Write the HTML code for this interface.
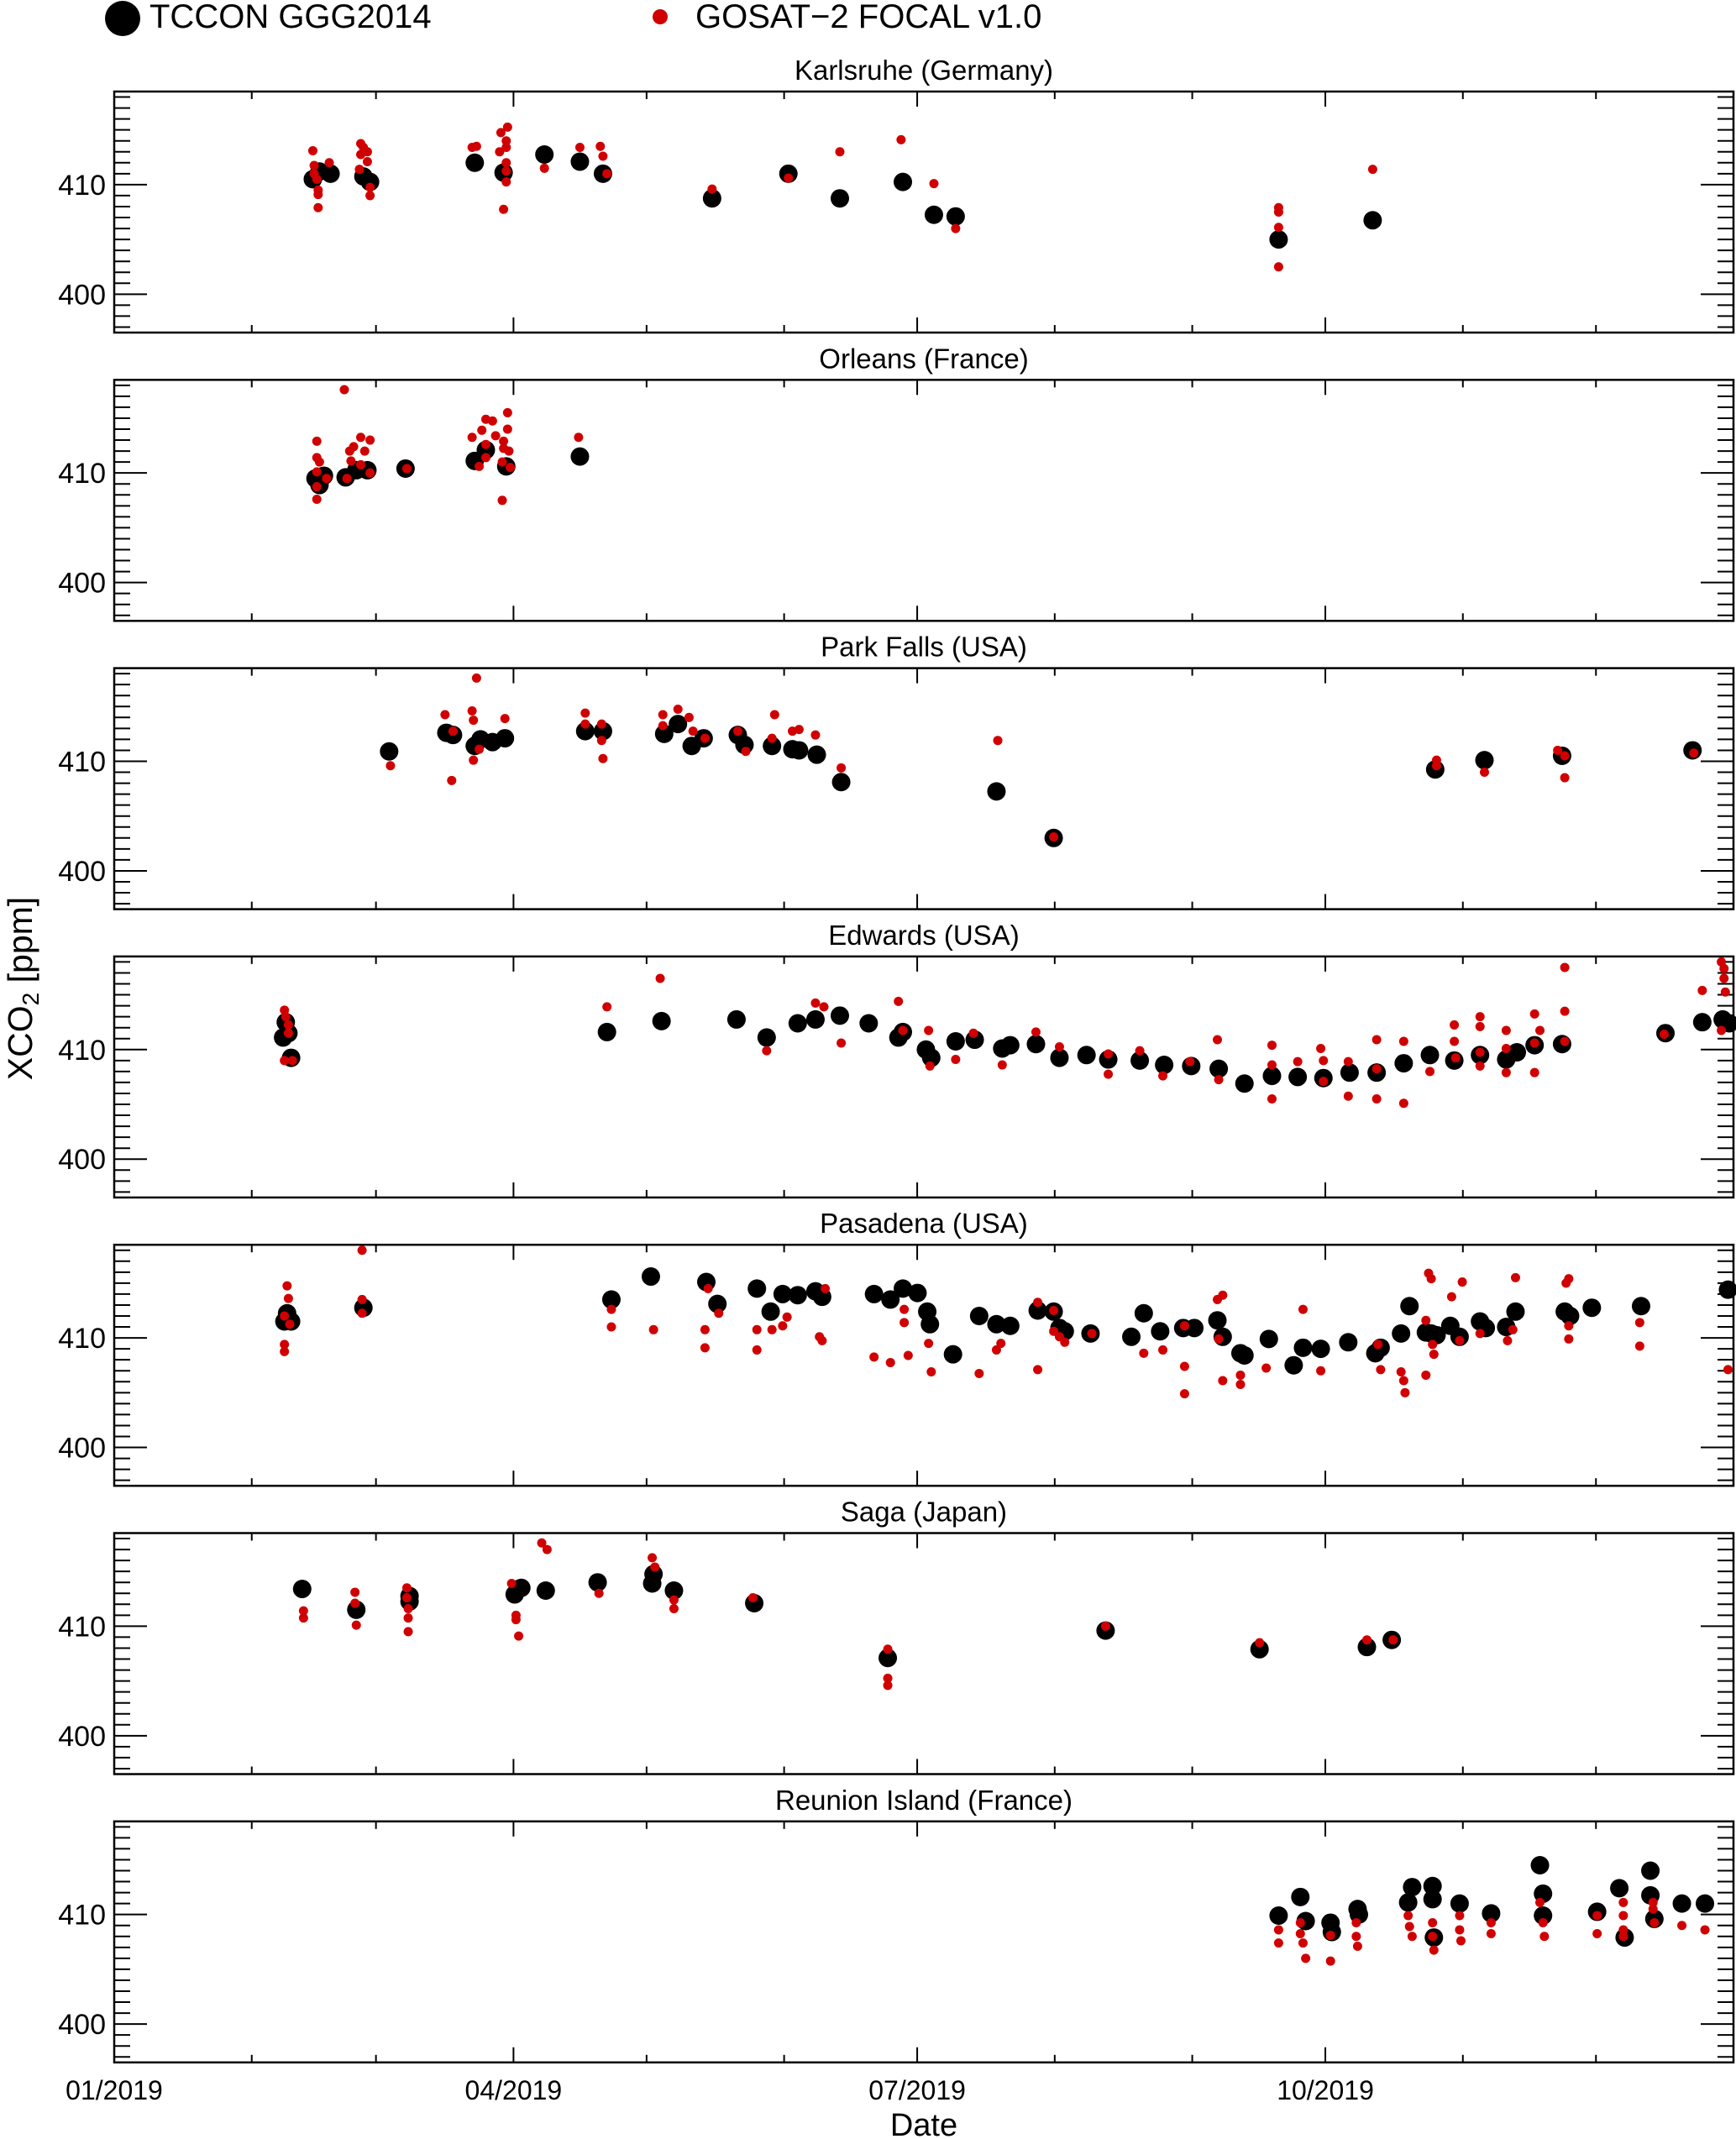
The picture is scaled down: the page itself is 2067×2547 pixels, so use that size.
<!DOCTYPE html>
<html><head><meta charset="utf-8"><style>
html,body{margin:0;padding:0;background:#fff;}
svg{display:block;font-family:"Liberation Sans",sans-serif;}
</style></head><body>
<svg id="chart" width="2067" height="2547" viewBox="0 0 2067 2547" xmlns="http://www.w3.org/2000/svg">
<g id="legend">
 <ellipse cx="146" cy="22" rx="21" ry="21" fill="#000"/>
 <text x="178" y="33" font-size="40">TCCON GGG2014</text>
 <circle cx="786" cy="20" r="9" fill="#d00000"/>
 <text x="828" y="33" font-size="40">GOSAT−2 FOCAL v1.0</text>
</g>
<text transform="translate(38,1177) rotate(-90)" text-anchor="middle" font-size="41">XCO<tspan font-size="28" dy="8">2</tspan><tspan dy="-8"> [ppm]</tspan></text>
<text x="1100" y="2543" text-anchor="middle" font-size="38">Date</text>
<g id="panels"></g>
</svg>
<script>
const xTickLabels = ["01/2019","04/2019","07/2019","10/2019"];
const xTickDays = [0,90,181,273];
const monthDays = [0,31,59,90,120,151,181,212,243,273,304,334,365];
const yTickLabels = [400,410];
const siteNames = ["Karlsruhe (Germany)","Orleans (France)","Park Falls (USA)","Edwards (USA)","Pasadena (USA)","Saga (Japan)","Reunion Island (France)"];

// Karlsruhe
const karTcD = [44.2,45.7,48.2,55.6,57.1,80.7,87.2,96.4,104.4,109.6,134.2,151.4,163,177.2,184.2,189.1,261.9,283.1];
const karTcV = [410.5,411.2,411,410.75,410.25,412,411.1,412.75,412.1,411,408.75,411,408.75,410.25,407.25,407.1,405,406.75];
const karGoD = [44.2,44.5,44.5,45.1,45.4,45.4,45.4,47.9,55,55.6,55,56.5,56.5,57.1,57.1,54.7,80.1,81.1,86.6,88.1,87.8,87.8,86.3,87.8,87.8,87.8,87.2,96.4,104.4,109,109.6,110.5,134.2,151.4,163,176.8,184.2,189.1,261.9,261.9,261.9,261.9,283.1];
const karGoV = [413.1,411.75,411,410.5,409.5,409.1,407.9,412,413.75,413.4,412.75,413,412.1,409.75,409,411.4,413.4,413.5,414.75,415.25,414,413.4,413,412,411.25,410.25,407.75,411.5,413.4,413.5,412.6,411,409.6,410.6,413,414.1,410.1,406,407.9,407.5,406.1,402.5,411.4];
// Orleans
const orlTcD = [44.8,45.7,46.7,51.6,54,56.5,65.1,80.7,83.2,87.8,104.4];
const orlTcV = [409.5,408.9,409.75,409.6,410.25,410.25,410.4,411.1,412.1,410.6,411.5];
const orlGoD = [45.1,45.1,45.7,45.1,45.1,45.1,47.3,51.3,52.5,52.8,53.4,51.9,55,55.9,57.1,55,57.1,65.4,80.1,82.3,83.2,83.2,83.2,84.7,85.4,87.2,87.2,86.9,86.9,88.1,88.1,88.4,88.7,81.7,104.1];
const orlGoV = [412.9,411.4,411,410.1,408.75,407.6,409.5,417.6,412,411.1,412.4,409.5,413.25,412,413,410.75,410,410.4,413.25,413.9,414.9,412.6,411.4,414.75,413.4,412.9,412.25,411,407.5,415.5,414,412,410.5,410.6,413.25];
// Park Falls
const pfTcD = [61.4,74.3,75.8,80.7,82,84.7,87.5,105.6,109.6,123.4,126.5,129.6,132.3,140,141.5,147.7,152.3,153.8,157.8,163.3,198.3,211.2,297.2,308.3,325.8,355.2];
const pfTcV = [410.9,412.6,412.4,411.4,412,411.75,412.1,412.75,412.75,412.5,413.4,411.4,412.1,412.4,411.5,411.4,411.1,411,410.6,408.1,407.25,403,409.25,410.1,410.5,411];
const pfGoD = [61.7,74,75.5,75.8,80.1,80.4,81.1,80.4,81.7,87.5,105.6,105.6,109.3,109.3,109.6,123.1,123.1,126.5,129,129.9,132.6,140,141.8,148.3,147.7,152.3,153.8,157.5,163.3,198.6,211.2,297.5,297.5,308.3,324.8,326.4,326.4,355.5];
const pfGoV = [409.6,414.25,408.25,412.75,414.6,413.75,417.6,410.1,411.1,413.9,414.4,413.4,413.4,411.9,410.25,414.25,413.25,414.75,414,412.75,412.1,412.75,410.9,414.25,412.1,412.75,412.9,412.4,409.4,411.9,403.1,410.1,409.6,409,411,410.5,408.5,410.75];
// Edwards
const edTcD = [37.5,38.1,38.7,39.3,110.5,122.8,139.7,146.5,153.5,157.5,163,169.5,176.2,177.2,182.4,183.6,189.1,193.4,199.6,201.4,207.2,212.5,218.6,223.5,230.6,236.1,242.2,248.4,254.2,260.4,266.2,272,277.9,284,290.1,296,301.5,307.3,313.2,315.6,319.6,325.8,349.1,357.4,362,363.5];
const edTcV = [411.1,412.5,411.5,409.25,411.6,412.6,412.75,411.1,412.4,412.75,413.1,412.4,411.1,411.6,410,409.25,410.75,410.9,410.1,410.4,410.5,409.25,409.5,409.1,409,408.6,408.5,408.25,406.9,407.6,407.5,407.4,407.9,407.9,408.75,409.5,409,409.5,409.1,409.75,410.4,410.5,411.5,412.5,412.75,412.4];
const edGoD = [37.8,38.1,38.7,38.7,37.8,39.6,110.5,122.5,146.5,157.5,159.4,163.3,176.2,177.2,183,183.3,189.1,193.1,199.6,207.2,212.5,223.5,223.5,230.6,235.8,241.9,248.1,248.4,260.4,260.4,260.4,266.2,271.4,272,272,277.6,277.6,284,284,284,290.1,290.1,296,301.5,301.5,301.8,307.3,307.3,307.3,307.3,313.2,313.2,313.2,319.6,319.6,319.6,320.8,326.4,326.4,326.4,348.8,357.4,361.7,362.3,362.3,362.6,361.7];
const edGoV = [413.6,413,412.25,411.5,409,409,413.9,416.5,409.9,414.25,413.9,410.6,414.4,411.75,411.75,408.5,409.1,411.5,408.6,411.6,410.25,409.6,407.75,409.9,407.6,408.9,410.9,407.25,410.4,408.6,405.5,408.9,410.1,409,407.1,408.9,405.75,410.9,408.25,405.5,410.75,405.1,408,412.25,410.75,409.25,413,412.1,409.75,408.5,411.75,410.1,407.9,413.25,410.6,407.9,411.75,417.5,413.5,410.75,411.4,415.4,418,417.4,416.5,415.25,411.75];
// Pasadena
const paTcD = [37.8,38.4,39.3,55.6,111.5,120.4,132.9,135.4,144.3,147.4,150.1,153.5,157.5,159,170.7,174.4,177.2,180.5,182.7,183.3,188.5,194.4,198.3,201.4,207.6,211.2,212.5,213.7,219.5,228.7,231.5,235.2,240.4,242.9,248.1,249.3,253.3,254.2,259.7,265.3,267.4,271.4,277.6,283.7,284.9,289.5,291.4,295.1,296.3,297.5,300.6,302.7,307.3,308.6,313.2,315.3,326.4,327.6,332.5,343.6,363.2];
const paTcV = [411.5,412.25,411.5,412.75,413.5,415.6,415.1,413.1,414.5,412.4,414,413.9,414.25,413.75,414,413.5,414.5,414.1,412.4,411.25,408.5,412,411.25,411.1,412.5,412.4,410.9,410.6,410.4,410.1,412.25,410.6,410.9,410.9,411.6,410.1,408.6,408.4,409.9,407.5,409.1,409,409.6,408.6,409.1,410.4,412.9,410.5,410.4,410.25,411.1,410.1,411.5,410.9,411,412.4,412.4,412,412.75,412.9,414.4];
const paGoD = [38.4,38.7,37.8,37.8,37.8,39,55.3,55.3,55.3,111.5,111.5,121,132.6,132.6,133.3,135.7,144.3,144.3,147.7,150.1,151.1,158.4,159,159.7,170.7,174.4,177.5,177.5,178.4,183,183.6,194.4,198.3,199.3,207.6,207.6,211.2,211.2,212.5,213.7,219.8,231.5,235.8,240.7,240.7,240.7,248.1,249.3,248.4,249.3,253.3,253.3,259.1,267.4,271.4,284.3,284.9,289.5,290.1,290.4,295.1,295.1,295.7,296.3,296.6,296.9,300.9,302.7,303.3,307.3,313.5,314.7,315.3,326.7,327.3,327.3,327.3,343.3,343.3,363.2];
const paGoV = [414.75,413.6,412,409.4,408.75,411.25,418,413.5,412.25,412.6,411,410.75,410.75,409.1,414.5,412.25,410.75,408.9,410.75,411.1,411.9,410.1,409.75,414.5,408.25,407.75,412.6,411.4,408.4,409.5,406.9,406.75,408.9,409.5,413.25,407.1,412.5,410.6,410.1,409.6,410.4,408.6,408.9,411.1,407.4,404.9,413.5,413.9,409.9,406.1,406.6,405.75,407.25,412.6,407,409.4,407.1,406.9,406.1,405,411.6,406.6,415.9,415.4,409.4,408.5,413.75,409.75,415.1,410.4,409.75,410.75,415.5,415,415.4,411.1,409.9,411.4,409.25,407.1];
// Saga
const sgTcD = [41.8,54,66,66,89.7,90.6,91.2,96.7,108.4,120.7,121,125.6,143.7,173.8,222.9,257.6,281.8,287.4];
const sgTcV = [413.4,411.5,412.25,412.75,412.9,413.4,413.5,413.25,414,413.9,414.75,413.25,412.1,407.1,409.6,407.9,408.1,408.75];
const sgGoD = [42.1,42.1,53.7,53.7,54,65.4,65.4,65.7,65.7,65.7,90,90,90.6,95.8,97,89,108.7,120.7,121.3,125.6,125.6,143.4,173.8,173.8,173.8,222.9,257.6,281.8,287.7];
const sgGoV = [411.4,410.75,413.1,412.1,410.1,413.5,412.6,411.6,410.75,409.5,411,410.6,409.1,417.6,417,413.9,413,416.25,415.4,412.4,411.6,412.6,407.9,405.25,404.6,410,408.5,408.75,408.75];
// Reunion
const reTcD = [261.9,266.8,268,273.6,273.9,279.7,280,291.1,292,296.6,296.6,296.9,302.7,309.8,320.8,321.5,321.5,333.7,338.7,339.9,345.7,345.7,346.6,352.8,358];
const reTcV = [409.9,411.6,409.4,409.25,408.4,410.5,410,411.1,412.5,412.6,411.4,407.9,411,410.1,414.5,411.9,409.9,410.25,412.4,407.9,414,411.75,409.6,411,411];
const reGoD = [261.9,261.9,266.8,266.8,267.4,268,273.6,273.6,279.4,279.4,279.7,291.1,291.4,292,296.6,296.6,296.9,302.7,302.7,303,309.8,309.8,320.8,321.5,321.8,333.7,333.7,339.6,339.6,339.6,339.6,346.3,346.3,346.6,352.8,358];
const reGoV = [408.6,407.4,409.25,408.25,407.4,406,408.1,405.75,409.25,408,407.1,409.9,408.9,408,409.25,408,406.75,409.9,408.6,407.6,409.25,408.25,411.1,409.25,408,409.9,408.25,411.1,409.9,408.6,408,411.1,410.5,409.25,409,408.6];

const sites = [
 [karTcD,karTcV,karGoD,karGoV],[orlTcD,orlTcV,orlGoD,orlGoV],[pfTcD,pfTcV,pfGoD,pfGoV],
 [edTcD,edTcV,edGoD,edGoV],[paTcD,paTcV,paGoD,paGoV],[sgTcD,sgTcV,sgGoD,sgGoV],[reTcD,reTcV,reGoD,reGoV]];

const NS = "http://www.w3.org/2000/svg";
const X0 = 136, X1 = 2064, PH = 287, PTOP = 109, PSTEP = 343.3;
const YMIN = 396.5, YMAX = 418.5;
function xScale(d){ return X0 + d*(X1-X0)/365; }
function yScale(v, top){ return top + (YMAX - v)*PH/(YMAX-YMIN); }
function mk(tag, attrs, parent){
  const el = document.createElementNS(NS, tag);
  for (const k in attrs) el.setAttribute(k, attrs[k]);
  parent.appendChild(el);
  return el;
}
const root = document.getElementById("panels");
siteNames.forEach((name, i) => {
  const top = PTOP + i*PSTEP, bot = top + PH;
  const g = mk("g", {}, root);
  
  
  const t = mk("text", {x:(X0+X1)/2, y:top-14, "text-anchor":"middle", "font-size":33}, g);
  
  
  t.textContent = name;
  const fr = mk("rect", {x:X0, y:top, width:X1-X0, height:PH, fill:"none", stroke:"#000", "stroke-width":2.5}, g);
  
  
  for (let v = 397; v <= 418; v++) {
    const y = yScale(v, top);
    const major = (v % 10 === 0);
    const L = major ? 39 : 19;
    const a = mk("line", {x1:X0, x2:X0+L, y1:y, y2:y, stroke:"#000", "stroke-width":2}, g);
    
    
    const b = mk("line", {x1:X1-L, x2:X1, y1:y, y2:y, stroke:"#000", "stroke-width":2}, g);
    
    
  }
  yTickLabels.forEach(v => {
    const l = mk("text", {x:126, y:yScale(v, top)+12, "text-anchor":"end", "font-size":34}, g);
    
    
    l.textContent = v;
  });
  monthDays.forEach(d => {
    const x = xScale(d);
    const major = xTickDays.indexOf(d) >= 0;
    const L = major ? 18 : 9;
    const a = mk("line", {x1:x, x2:x, y1:bot, y2:bot-L, stroke:"#000", "stroke-width":2}, g);
    
    
    const b = mk("line", {x1:x, x2:x, y1:top, y2:top+L, stroke:"#000", "stroke-width":2}, g);
    
    
  });
  const s = sites[i];
  s[0].forEach((d, j) => {
    const c = mk("circle", {cx:xScale(d)+3, cy:yScale(s[1][j], top), r:11, fill:"#000"}, g);
    
    
  });
  s[2].forEach((d, j) => {
    const c = mk("circle", {cx:xScale(d)+3, cy:yScale(s[3][j], top), r:5.5, fill:"#d00000"}, g);
    
    
  });
});
const lastBot = PTOP + 6*PSTEP + PH;
xTickLabels.forEach((lab, k) => {
  const t = mk("text", {x:xScale(xTickDays[k]), y:lastBot+44, "text-anchor":"middle", "font-size":32}, root);
  
  
  t.textContent = lab;
});
</script>
</body></html>
